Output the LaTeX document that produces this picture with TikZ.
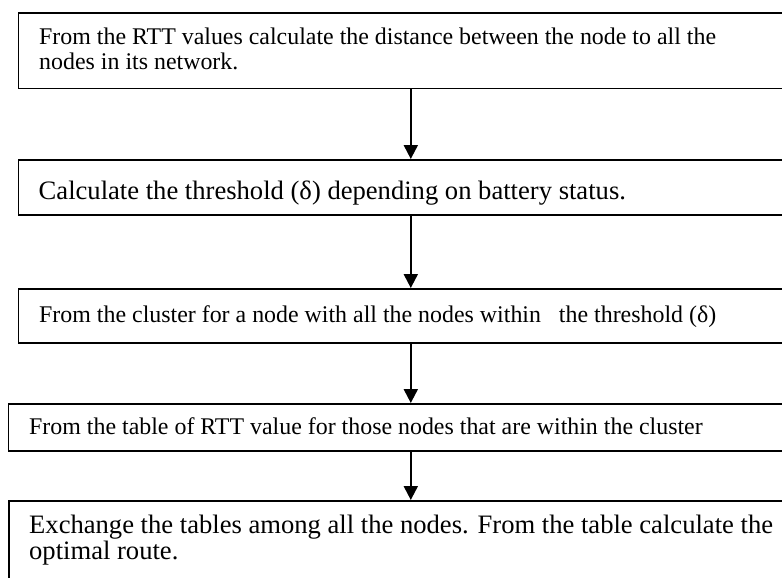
\documentclass[tikz,border=0pt]{standalone}
\usepackage{fontspec}
\setmainfont{Liberation Serif}
\usetikzlibrary{arrows.meta}
\tikzset{
  box/.style={draw, line width=1.6pt, rectangle, inner sep=0pt, anchor=north west},
  txt/.style={anchor=base west, inner sep=0pt, align=left},
  small/.style={font=\fontsize{23.9}{25}\selectfont},
  large/.style={font=\fontsize{26.6}{26}\selectfont},
  arr/.style={line width=2pt, -{Triangle[length=14pt,width=14pt]}}
}
\begin{document}
\begin{tikzpicture}[x=1pt,y=-1pt]
\clip (0,0) rectangle (782,578);
\fill[white] (0,0) rectangle (782,578);
\node[box, minimum width=785pt, minimum height=75.4pt] (b1) at (17.5,12.3) {};
\node[box, minimum width=785pt, minimum height=55pt] (b2) at (17.5,159) {};
\node[box, minimum width=785pt, minimum height=54pt] (b3) at (17.5,288) {};
\node[box, minimum width=805pt, minimum height=47pt] (b4) at (7.5,403) {};
\node[box, minimum width=803.4pt, minimum height=120pt] (b5) at (8.3,500) {};
\node[txt, small] (t1) at (39,69.3) {From the RTT values calculate the distance between the node to all the\\nodes in its network.};
\node[txt, large] (t2) at (38.5,199) {Calculate the threshold (δ) depending on battery status.};
\node[txt, small] (t3) at (39,322.7) {From the cluster for a node with all the nodes within\ \ \ the threshold (δ)};
\node[txt, small] (t4) at (29,434) {From the table of RTT value for those nodes that are within the cluster};
\node[txt, large] (t5) at (29,559) {Exchange the tables among all the nodes. From the table calculate the\\optimal route.};
\draw[arr] (b1.south) -- (b2.north);
\draw[arr] (b2.south) -- (b3.north);
\draw[arr] (b3.south) -- (b4.north);
\draw[arr] (b4.south) -- (b5.north);
\end{tikzpicture}
\end{document}
